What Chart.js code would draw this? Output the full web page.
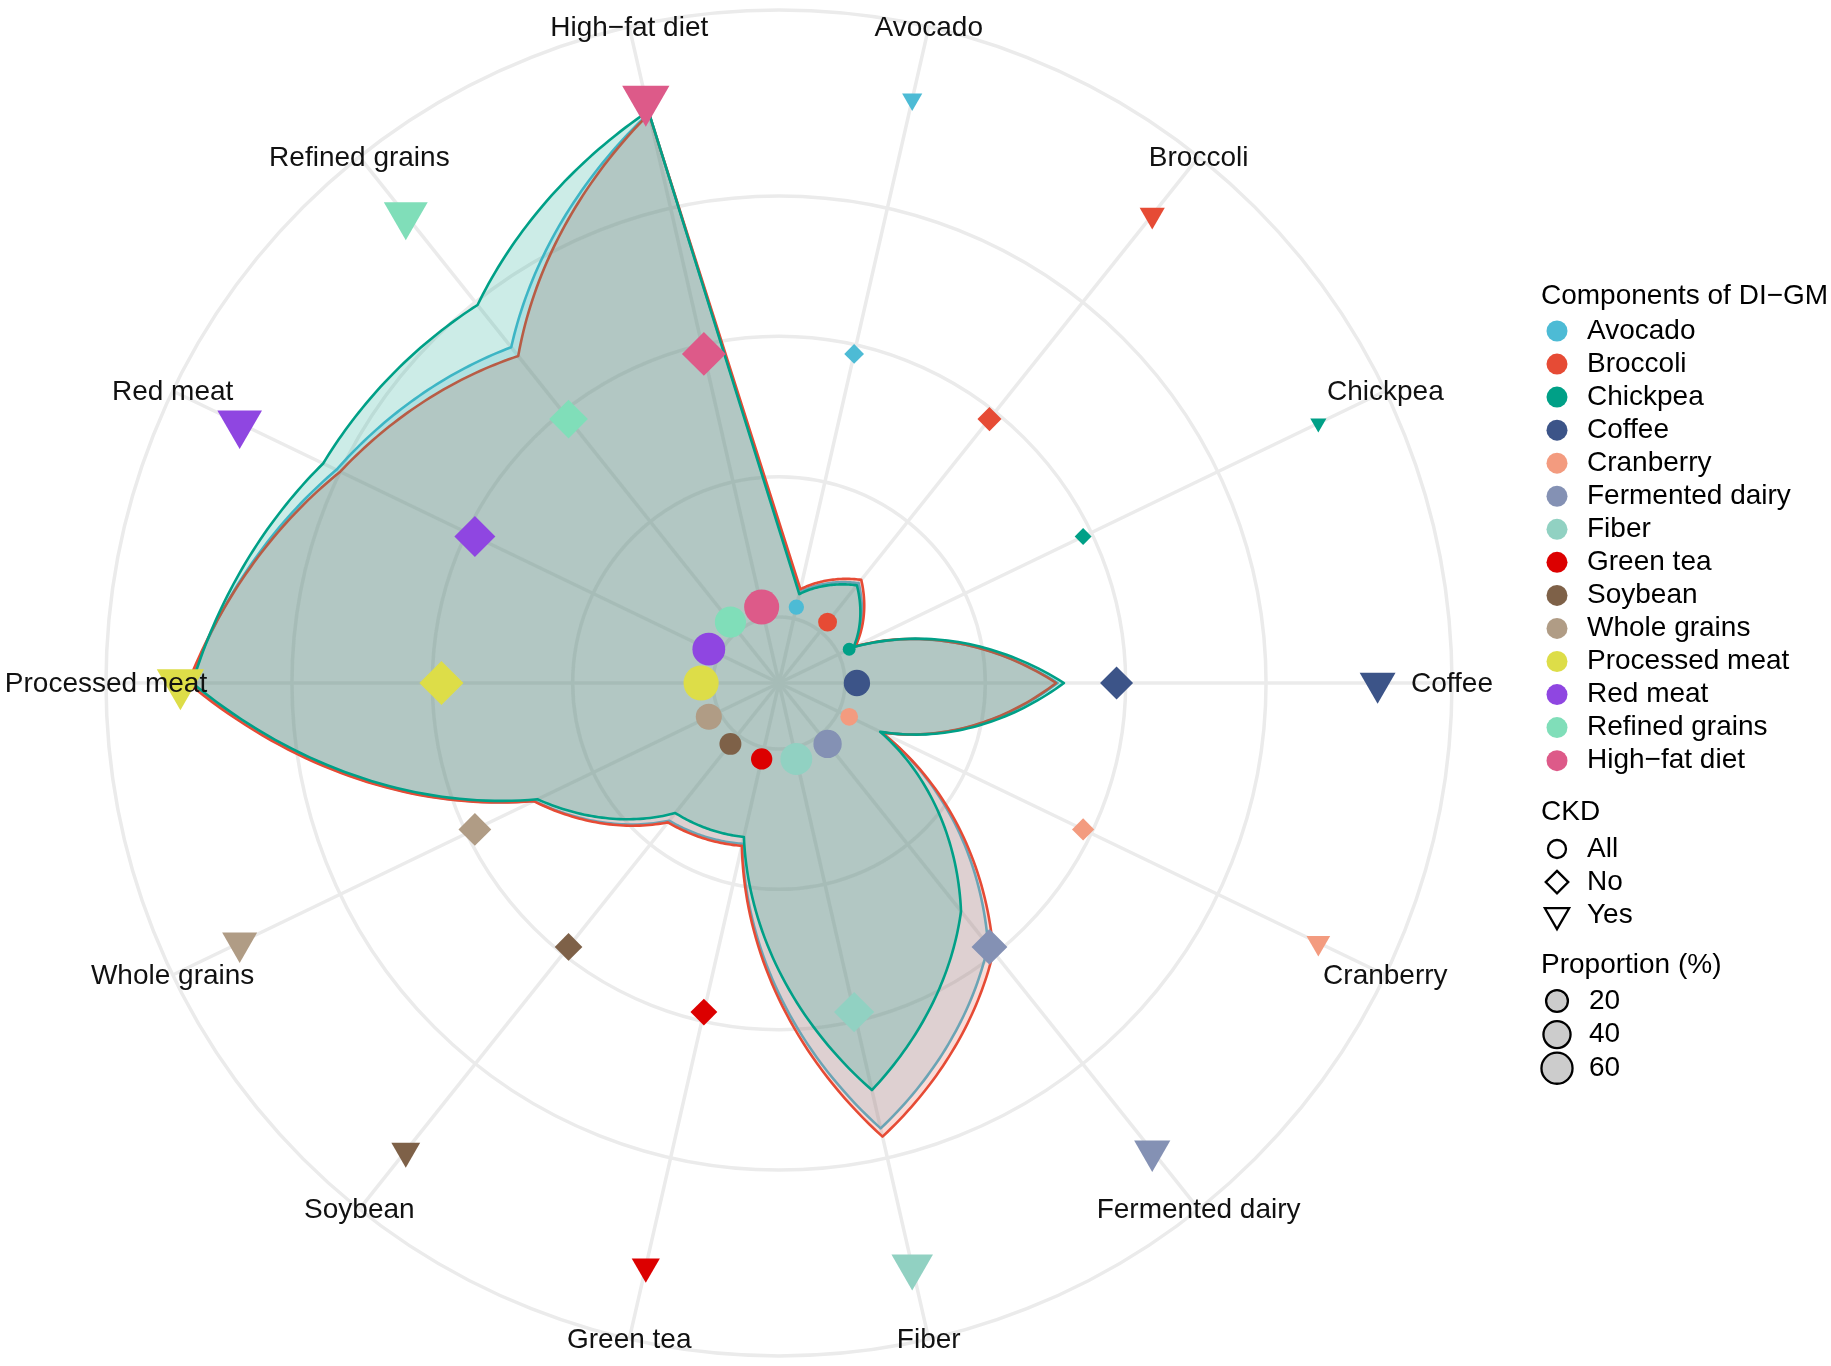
<!DOCTYPE html>
<html>
<head>
<meta charset="utf-8">
<title>DI-GM components by CKD</title>
<script src="https://cdn.jsdelivr.net/npm/chart.js"></script>
<style>
  html, body { margin: 0; padding: 0; background: #fff; overflow: hidden; }
  #wrap { width: 1831px; height: 1366px; position: relative; }
</style>
</head>
<body>
<div id="wrap"><canvas id="radar"></canvas></div>
<script>
const components = ["Avocado", "Broccoli", "Chickpea", "Coffee", "Cranberry", "Fermented dairy",
  "Fiber", "Green tea", "Soybean", "Whole grains", "Processed meat", "Red meat",
  "Refined grains", "High\u2212fat diet"];
const componentColors = ["#4DBBD5", "#E64B35", "#00A087", "#3C5488", "#F39B7F", "#8491B4",
  "#91D1C2", "#DC0000", "#7E6148", "#B09C85", "#DDDD48", "#8F46E1", "#80DEB9", "#DD5A89"];

// proportion (%) per component, by CKD group
const allValues = [3.9, 8.8, 2.5, 30.3, 6.8, 38.4, 55.7, 14.1, 15.7, 29.3, 74.6, 60.6, 51.8, 73.9];
const noValues  = [4.3, 9.4, 2.7, 30.1, 6.8, 39.6, 56.9, 14.4, 16.0, 29.4, 74.8, 60.0, 50.2, 73.8];
const yesValues = [3.6, 8.4, 2.4, 31.2, 6.6, 32.2, 50.1, 13.1, 14.3, 28.8, 74.2, 62.7, 59.5, 74.2];

const groups = ["All", "No", "Yes"];
const groupColors = ["#4DBBD5", "#E64B35", "#00A087"];
const groupFills = ["rgba(77,187,213,0.2)", "rgba(230,75,53,0.2)", "rgba(0,160,135,0.2)"];

// where each group's markers sit on the radius
const markerLevels = [1.7, 38.7, 75.9];
const ringBreaks = [0, 20, 40, 60];
const sizeBreaks = [20, 40, 60];
const rMin = -9.4;
const rOuter = 86.5;

const FONT = '"Liberation Sans", Arial, Helvetica, sans-serif';
Chart.defaults.font.family = FONT;

const groupValues = [allValues, noValues, yesValues];
const allNums = allValues.concat(noValues, yesValues);
const sMin = Math.min(...allNums);
const sMax = Math.max(...allNums);

// diameter in px, area-like scaling as ggplot's scale_size
function dotSize(v) {
  return 12 + 23.2 * Math.sqrt(Math.max(0, v - sMin) / (sMax - sMin));
}

// polygons with spiral edges (coord_polar style), last edge closes straight
const spiralAreas = {
  id: 'spiralAreas',
  beforeDatasetsDraw(chart) {
    const r = chart.scales.r;
    const ctx = chart.ctx;
    chart.data.datasets.forEach(ds => {
      if (!ds.spiral) return;
      const v = ds.data;
      ctx.save();
      ctx.beginPath();
      let p = r.getPointPositionForValue(0, v[0]);
      ctx.moveTo(p.x, p.y);
      for (let i = 0; i < v.length - 1; i++) {
        const steps = 40;
        for (let s = 1; s <= steps; s++) {
          const t = s / steps;
          p = r.getPointPositionForValue(i + t, v[i] + t * (v[i + 1] - v[i]));
          ctx.lineTo(p.x, p.y);
        }
      }
      ctx.closePath();
      ctx.fillStyle = ds.backgroundColor;
      ctx.fill();
      ctx.lineWidth = 2.6;
      ctx.lineJoin = 'round';
      ctx.strokeStyle = ds.borderColor;
      ctx.stroke();
      ctx.restore();
    });
  }
};

// category names centred on the outer circle
const thetaLabels = {
  id: 'thetaLabels',
  afterDatasetsDraw(chart) {
    const r = chart.scales.r;
    const ctx = chart.ctx;
    ctx.save();
    ctx.font = '28px ' + FONT;
    ctx.fillStyle = '#111';
    ctx.textAlign = 'center';
    ctx.textBaseline = 'middle';
    components.forEach((c, i) => {
      const p = r.getPointPosition(i, r.drawingArea);
      ctx.fillText(c, p.x, p.y + 1);
    });
    ctx.restore();
  }
};

function shapePath(ctx, shape, x, y, R) {
  ctx.beginPath();
  if (shape === 'circle') {
    ctx.arc(x, y, R, 0, Math.PI * 2);
  } else if (shape === 'diamond') {
    const h = R * 1.2533;
    ctx.moveTo(x, y - h); ctx.lineTo(x + h, y); ctx.lineTo(x, y + h); ctx.lineTo(x - h, y);
    ctx.closePath();
  } else {
    const rr = R * 1.5551, xc = R * 1.3468, yc = rr / 2;
    ctx.moveTo(x, y + rr); ctx.lineTo(x + xc, y - yc); ctx.lineTo(x - xc, y - yc);
    ctx.closePath();
  }
}

// ggplot-like legend on the right
const sideLegend = {
  id: 'sideLegend',
  afterDraw(chart) {
    const ctx = chart.ctx;
    const x0 = 1541, keyX = 1557, textX = 1587;
    ctx.save();
    ctx.font = '28px ' + FONT;
    ctx.fillStyle = '#000';
    ctx.textAlign = 'left';
    ctx.textBaseline = 'middle';
    ctx.fillText('Components of DI\u2212GM', x0, 296);
    components.forEach((c, i) => {
      const y = 331 + i * 33.05;
      ctx.fillStyle = componentColors[i];
      shapePath(ctx, 'circle', keyX, y, 10.5);
      ctx.fill();
      ctx.fillStyle = '#000';
      ctx.fillText(c, textX, y);
    });

    ctx.fillText('CKD', x0, 812);
    const shapes = ['circle', 'diamond', 'triangle'];
    groups.forEach((g, i) => {
      const y = 849 + i * 33.1;
      ctx.lineWidth = 2.3;
      ctx.strokeStyle = '#000';
      shapePath(ctx, shapes[i], keyX, y, 9);
      ctx.stroke();
      ctx.fillText(g, textX, y);
    });

    ctx.fillText('Proportion (%)', x0, 965);
    sizeBreaks.forEach((b, i) => {
      const y = 1001 + i * 33.6;
      const d = dotSize(b);
      shapePath(ctx, 'circle', keyX, y, d / 2 - 0.8);
      ctx.fillStyle = '#CCCCCC';
      ctx.fill();
      ctx.lineWidth = 2.3;
      ctx.strokeStyle = '#000';
      ctx.stroke();
      ctx.fillStyle = '#000';
      ctx.fillText(String(b), textX + 2, y);
    });
    ctx.restore();
  }
};

const pointStyles = ['circle', 'rectRot', 'triangle'];
const radiusFactor = [0.5, 0.5 * 1.2533, 0.5 * 1.5551];

const areaSets = groups.map((g, k) => ({
  label: g + ' area',
  spiral: true,
  data: groupValues[k],
  borderColor: groupColors[k],
  backgroundColor: groupFills[k],
  showLine: false,
  fill: false,
  pointRadius: 0,
  pointHoverRadius: 0
}));

const markerSets = groups.map((g, k) => ({
  label: g,
  data: components.map(() => markerLevels[k]),
  showLine: false,
  fill: false,
  pointStyle: pointStyles[k],
  pointRotation: k === 2 ? 180 : 0,
  pointBackgroundColor: componentColors,
  pointBorderColor: componentColors,
  pointBorderWidth: 0,
  pointRadius: c => dotSize(groupValues[k][c.dataIndex]) * radiusFactor[k],
  pointHoverRadius: c => dotSize(groupValues[k][c.dataIndex]) * radiusFactor[k]
}));

new Chart(document.getElementById('radar'), {
  type: 'radar',
  data: {
    labels: components,
    datasets: markerSets.concat(areaSets)
  },
  options: {
    responsive: true,
    maintainAspectRatio: false,
    animation: false,
    layout: { padding: { left: 106, right: 379, top: 10, bottom: 10 } },
    plugins: {
      legend: { display: false },
      tooltip: { enabled: false }
    },
    scales: {
      r: {
        min: rMin,
        max: rOuter,
        startAngle: 360 / 28,
        afterBuildTicks: s => {
          s.ticks = ringBreaks.concat([rOuter]).map(v => ({ value: v }));
        },
        ticks: { display: false },
        pointLabels: { display: false },
        grid: { circular: true, color: '#EBEBEB', lineWidth: 3.5 },
        angleLines: { color: '#EBEBEB', lineWidth: 3.5 }
      }
    }
  },
  plugins: [spiralAreas, thetaLabels, sideLegend]
});
</script>
</body>
</html>
